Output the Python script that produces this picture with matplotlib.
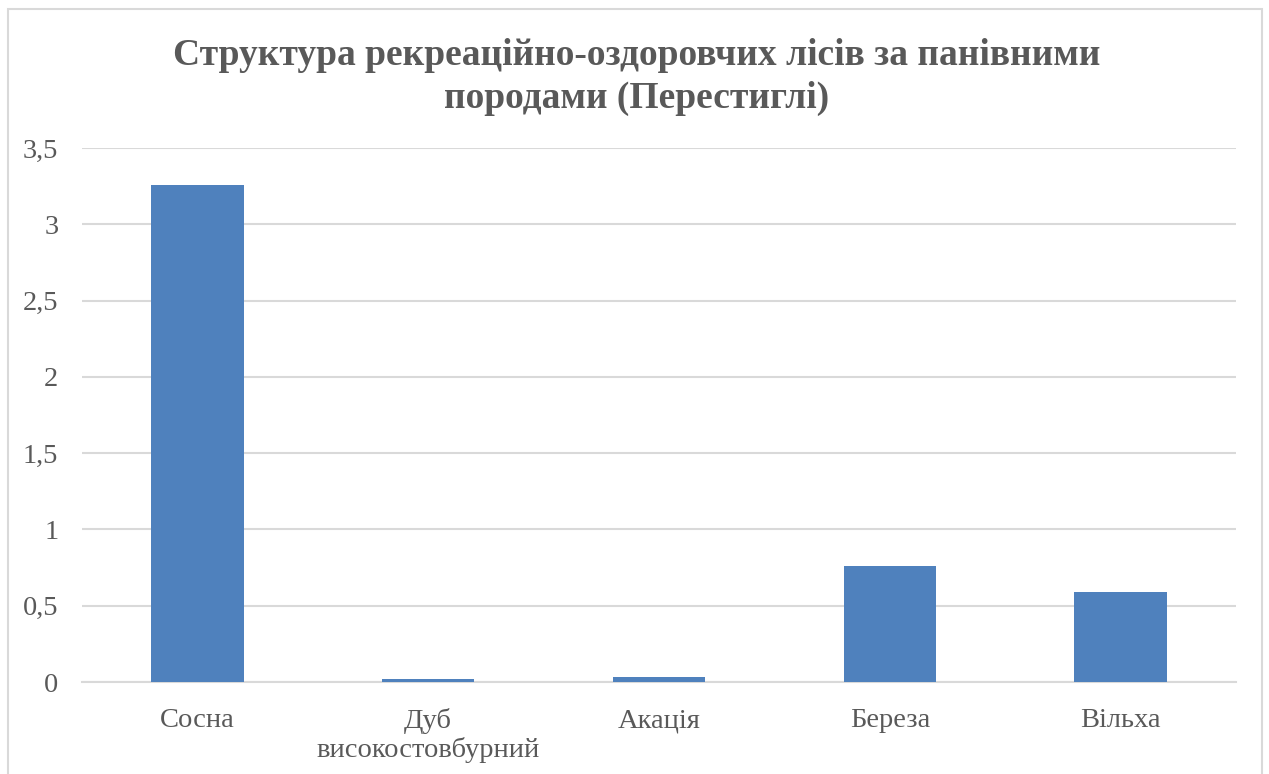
import numpy as np
import matplotlib.pyplot as plt
from matplotlib.patches import Rectangle

categories = ["Сосна", "Дуб\nвисокостовбурний", "Акація", "Береза", "Вільха"]
values = [3.26, 0.02, 0.03, 0.76, 0.59]
yticks = [0, 0.5, 1, 1.5, 2, 2.5, 3, 3.5]
ytick_labels = ["0", "0,5", "1", "1,5", "2", "2,5", "3", "3,5"]
title = "Структура рекреаційно-оздоровчих лісів за панівними\nпородами (Перестиглі)"

plt.rcParams['font.family'] = ['Liberation Serif', 'DejaVu Serif']

fig = plt.figure(figsize=(12.69, 7.74), dpi=100)
fig.patches.append(Rectangle((8/1269, -0.01), 1254/1269, 1 - 9/774 + 0.01,
                             transform=fig.transFigure, fill=False,
                             edgecolor='#d9d9d9', linewidth=1.5))
ax = fig.add_axes([82/1269, 1 - 682/774, (1236 - 82)/1269, (682 - 148)/774])

x = np.arange(len(categories))
ax.bar(x, values, width=0.4, color='#4f81bd', zorder=3)

ax.set_xlim(-0.5, len(categories) - 0.5)
ax.set_ylim(0, 3.5)
ax.set_yticks(yticks)
ax.set_yticklabels(ytick_labels)
ax.set_xticks(x)
ax.set_xticklabels(categories, linespacing=1.15)
ax.tick_params(axis='both', length=0, labelsize=20.5, colors='#595959')
ax.tick_params(axis='x', pad=19)
ax.tick_params(axis='y', pad=17)
ax.grid(axis='y', color='#d9d9d9', linewidth=1.5, zorder=0)
for s in ['top', 'right', 'left']:
    ax.spines[s].set_visible(False)
ax.spines['bottom'].set_color('#d9d9d9')
ax.spines['bottom'].set_linewidth(1.5)

fig.text(0.502, 1 - 77/774, title, ha='center', va='center', fontsize=27,
         fontweight='bold', color='#595959', linespacing=1.3)

fig.savefig('out.png', dpi=100)
